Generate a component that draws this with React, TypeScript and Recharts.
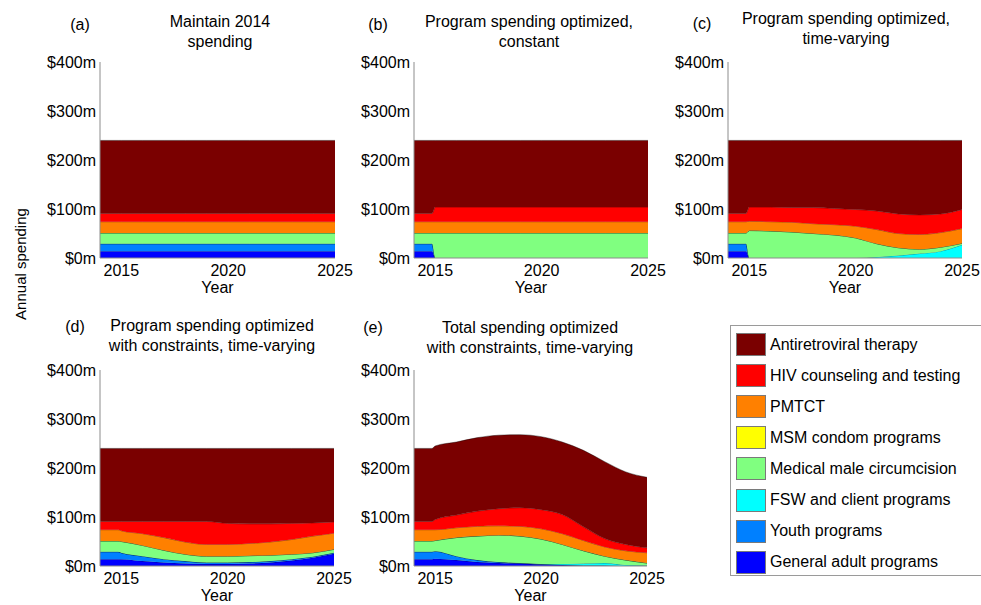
import { Area, AreaChart, XAxis, YAxis } from "recharts";

// x positions of the data points (2014.85 = end of the 2014 plateau)
const years = [2014, 2014.85, 2015, 2016, 2017, 2018, 2019, 2020, 2021, 2022, 2023, 2024, 2025];

// stacking order, bottom to top
const series = [
  { key: "general", name: "General adult programs", color: "#0000ff" },
  { key: "youth", name: "Youth programs", color: "#0080ff" },
  { key: "fsw", name: "FSW and client programs", color: "#00ffff" },
  { key: "mmc", name: "Medical male circumcision", color: "#80ff80" },
  { key: "msm", name: "MSM condom programs", color: "#ffff00" },
  { key: "pmtct", name: "PMTCT", color: "#ff8000" },
  { key: "hct", name: "HIV counseling and testing", color: "#ff0000" },
  { key: "art", name: "Antiretroviral therapy", color: "#7a0000" },
];

// annual spending, $m
const spendA = {
  general: [14, 14, 14, 14, 14, 14, 14, 14, 14, 14, 14, 14, 14],
  youth: [15, 15, 15, 15, 15, 15, 15, 15, 15, 15, 15, 15, 15],
  fsw: [0, 0, 0, 0, 0, 0, 0, 0, 0, 0, 0, 0, 0],
  mmc: [22, 22, 22, 22, 22, 22, 22, 22, 22, 22, 22, 22, 22],
  msm: [0, 0, 0, 0, 0, 0, 0, 0, 0, 0, 0, 0, 0],
  pmtct: [23, 23, 23, 23, 23, 23, 23, 23, 23, 23, 23, 23, 23],
  hct: [17, 17, 17, 17, 17, 17, 17, 17, 17, 17, 17, 17, 17],
  art: [149, 149, 149, 149, 149, 149, 149, 149, 149, 149, 149, 149, 149],
};

const spendB = {
  general: [14, 14, 0, 0, 0, 0, 0, 0, 0, 0, 0, 0, 0],
  youth: [15, 15, 0, 0, 0, 0, 0, 0, 0, 0, 0, 0, 0],
  fsw: [0, 0, 0, 0, 0, 0, 0, 0, 0, 0, 0, 0, 0],
  mmc: [22, 22, 51, 51, 51, 51, 51, 51, 51, 51, 51, 51, 51],
  msm: [0, 0, 0, 0, 0, 0, 0, 0, 0, 0, 0, 0, 0],
  pmtct: [23, 23, 23, 23, 23, 23, 23, 23, 23, 23, 23, 23, 23],
  hct: [17, 17, 30, 30, 30, 30, 30, 30, 30, 30, 30, 30, 30],
  art: [149, 149, 136, 136, 136, 136, 136, 136, 136, 136, 136, 136, 136],
};

const spendC = {
  general: [14, 14, 0, 0, 0, 0, 0, 0, 0, 0, 0, 0, 0],
  youth: [15, 15, 0, 0, 0, 0, 0, 0, 0, 0, 0, 0, 0],
  fsw: [0, 0, 0, 0, 0, 0, 0, 0, 2, 5, 9, 14, 27],
  mmc: [22, 22, 56, 55, 53, 50, 47, 41, 27, 16, 9, 8, 3],
  msm: [0, 0, 0, 0, 0, 0, 0, 0, 0, 0, 0, 0, 0],
  pmtct: [23, 23, 19, 19, 20, 20, 21, 24, 29, 29, 30, 30, 30],
  hct: [17, 17, 29, 30, 30, 33, 33, 34, 38, 40, 40, 38, 39],
  art: [149, 149, 136, 136, 137, 137, 139, 141, 144, 150, 152, 150, 141],
};

const spendD = {
  general: [14, 14, 14, 10, 7, 5, 4, 4, 5, 7, 11, 17, 25],
  youth: [15, 15, 13, 10, 7, 5, 3, 3, 3, 3, 3, 2, 2],
  fsw: [0, 0, 0, 0, 0, 0, 0, 0, 0, 0, 0, 0, 0],
  mmc: [22, 22, 23, 22, 18, 14, 13, 13, 13, 12, 10, 8, 7],
  msm: [0, 0, 0, 0, 0, 0, 0, 0, 0, 0, 0, 0, 0],
  pmtct: [23, 23, 22, 24, 26, 25, 24, 24, 25, 27, 30, 34, 33],
  hct: [17, 17, 19, 25, 33, 42, 47, 43, 40, 37, 33, 27, 23],
  art: [149, 149, 149, 149, 149, 149, 149, 153, 154, 154, 153, 152, 150],
};

const spendE = {
  general: [14, 14, 15, 12, 8, 6, 5, 3, 2, 1, 1, 0, 0],
  youth: [15, 15, 15, 8, 4, 2, 1, 1, 0, 0, 0, 0, 0],
  fsw: [0, 0, 0, 0, 0, 0, 0, 0, 2, 4, 5, 2, 1],
  mmc: [22, 22, 22, 38, 49, 55, 55, 51, 40, 26, 14, 10, 5],
  msm: [0, 0, 0, 0, 0, 0, 0, 0, 0, 0, 0, 0, 0],
  pmtct: [23, 23, 22, 20, 20, 19, 20, 21, 22, 21, 19, 19, 21],
  hct: [17, 17, 21, 26, 31, 35, 38, 39, 39, 28, 17, 13, 10],
  art: [149, 149, 150, 149, 150, 150, 149, 149, 148, 156, 157, 148, 144],
};

const yTicks = [0, 100, 200, 300, 400];
const xTicks = [2015, 2020, 2025];

const FONT = '"Liberation Sans", Arial, Helvetica, sans-serif';

type Box = { x: number; y: number; w: number; h: number };

type PanelProps = {
  letter: string;
  title: string[];
  spend: Record<string, number[]>;
  box: Box;
  letterAt: [number, number];
  titleAt: [number, number];
};

function Panel({ letter, title, spend, box, letterAt, titleAt }: PanelProps) {
  const data = years.map((year, i) => {
    const row: Record<string, number> = { year };
    series.forEach((s) => {
      row[s.key] = spend[s.key][i];
    });
    return row;
  });

  const padL = 70;
  const padR = 20;
  const padT = 10;
  const padB = 40;

  return (
    <>
      <div style={{ position: "absolute", left: box.x - padL, top: box.y - padT }}>
        <AreaChart
          width={box.w + padL + padR}
          height={box.h + padT + padB}
          data={data}
          margin={{ top: padT, right: padR, bottom: 0, left: 0 }}
        >
          <XAxis
            type="number"
            dataKey="year"
            domain={[2014, 2025]}
            ticks={xTicks}
            allowDataOverflow
            height={padB}
            tickLine={false}
            tickSize={5}
            tickMargin={2}
            axisLine={{ stroke: "#8c8c8c" }}
            tick={{ fill: "#000", fontSize: 16, fontFamily: FONT }}
            label={{
              value: "Year",
              position: "insideBottom",
              offset: 5,
              fill: "#000",
              fontSize: 16,
              fontFamily: FONT,
            }}
          />
          <YAxis
            type="number"
            domain={[0, 400]}
            ticks={yTicks}
            allowDataOverflow
            width={padL}
            tickLine={false}
            tickSize={2}
            tickMargin={2}
            axisLine={{ stroke: "#8c8c8c" }}
            tick={{ fill: "#000", fontSize: 16, fontFamily: FONT }}
            tickFormatter={(v) => `$${v}m`}
          />
          {series.map((s) => (
            <Area
              key={s.key}
              dataKey={s.key}
              name={s.name}
              stackId="1"
              type="monotone"
              fill={s.color}
              fillOpacity={1}
              stroke="#000"
              strokeOpacity={0.55}
              strokeWidth={0.7}
              dot={false}
              activeDot={false}
              isAnimationActive={false}
            />
          ))}
        </AreaChart>
      </div>
      <div
        style={{
          position: "absolute",
          left: letterAt[0] - 30,
          top: letterAt[1] - 10,
          width: 60,
          textAlign: "center",
          lineHeight: "20px",
          fontSize: 16,
        }}
      >
        {letter}
      </div>
      <div
        style={{
          position: "absolute",
          left: titleAt[0] - 200,
          top: titleAt[1] - 10,
          width: 400,
          textAlign: "center",
          lineHeight: "20px",
          fontSize: 16,
        }}
      >
        {title.map((line) => (
          <div key={line}>{line}</div>
        ))}
      </div>
    </>
  );
}

function Legend() {
  const items = [...series].reverse();
  return (
    <div
      style={{
        position: "absolute",
        left: 730,
        top: 325,
        width: 260,
        height: 249,
        border: "1px solid #9a9a9a",
        background: "#fff",
      }}
    >
      {items.map((s, i) => (
        <div
          key={s.key}
          style={{
            position: "absolute",
            left: 5,
            top: 7 + i * 31.1,
            height: 23,
            display: "flex",
            alignItems: "center",
            whiteSpace: "nowrap",
          }}
        >
          <div
            style={{
              width: 28,
              height: 21,
              background: s.color,
              border: "1px solid #7a7a7a",
              marginRight: 4,
            }}
          />
          <span style={{ fontSize: 16 }}>{s.name}</span>
        </div>
      ))}
    </div>
  );
}

export default function App() {
  return (
    <div
      style={{
        position: "absolute",
        left: 0,
        top: 0,
        width: 981,
        height: 605,
        overflow: "hidden",
        background: "#fff",
        fontFamily: FONT,
        color: "#000",
      }}
    >
      <div
        style={{
          position: "absolute",
          left: 21 - 80,
          top: 264 - 10,
          width: 160,
          lineHeight: "20px",
          textAlign: "center",
          fontSize: 15,
          transform: "rotate(-90deg)",
        }}
      >
        Annual spending
      </div>
      <Panel
        letter="(a)"
        title={["Maintain 2014", "spending"]}
        spend={spendA}
        box={{ x: 100, y: 62, w: 235, h: 196 }}
        letterAt={[80, 25]}
        titleAt={[220, 22]}
      />
      <Panel
        letter="(b)"
        title={["Program spending optimized,", "constant"]}
        spend={spendB}
        box={{ x: 414, y: 62, w: 234, h: 196 }}
        letterAt={[378, 25]}
        titleAt={[529, 22]}
      />
      <Panel
        letter="(c)"
        title={["Program spending optimized,", "time-varying"]}
        spend={spendC}
        box={{ x: 728, y: 62, w: 234, h: 196 }}
        letterAt={[702, 24]}
        titleAt={[846, 19]}
      />
      <Panel
        letter="(d)"
        title={["Program spending optimized", "with constraints, time-varying"]}
        spend={spendD}
        box={{ x: 100, y: 370, w: 234, h: 196 }}
        letterAt={[75, 327]}
        titleAt={[212, 326]}
      />
      <Panel
        letter="(e)"
        title={["Total spending optimized", "with constraints, time-varying"]}
        spend={spendE}
        box={{ x: 414, y: 370, w: 233, h: 196 }}
        letterAt={[373, 328]}
        titleAt={[530, 328]}
      />
      <Legend />
    </div>
  );
}
